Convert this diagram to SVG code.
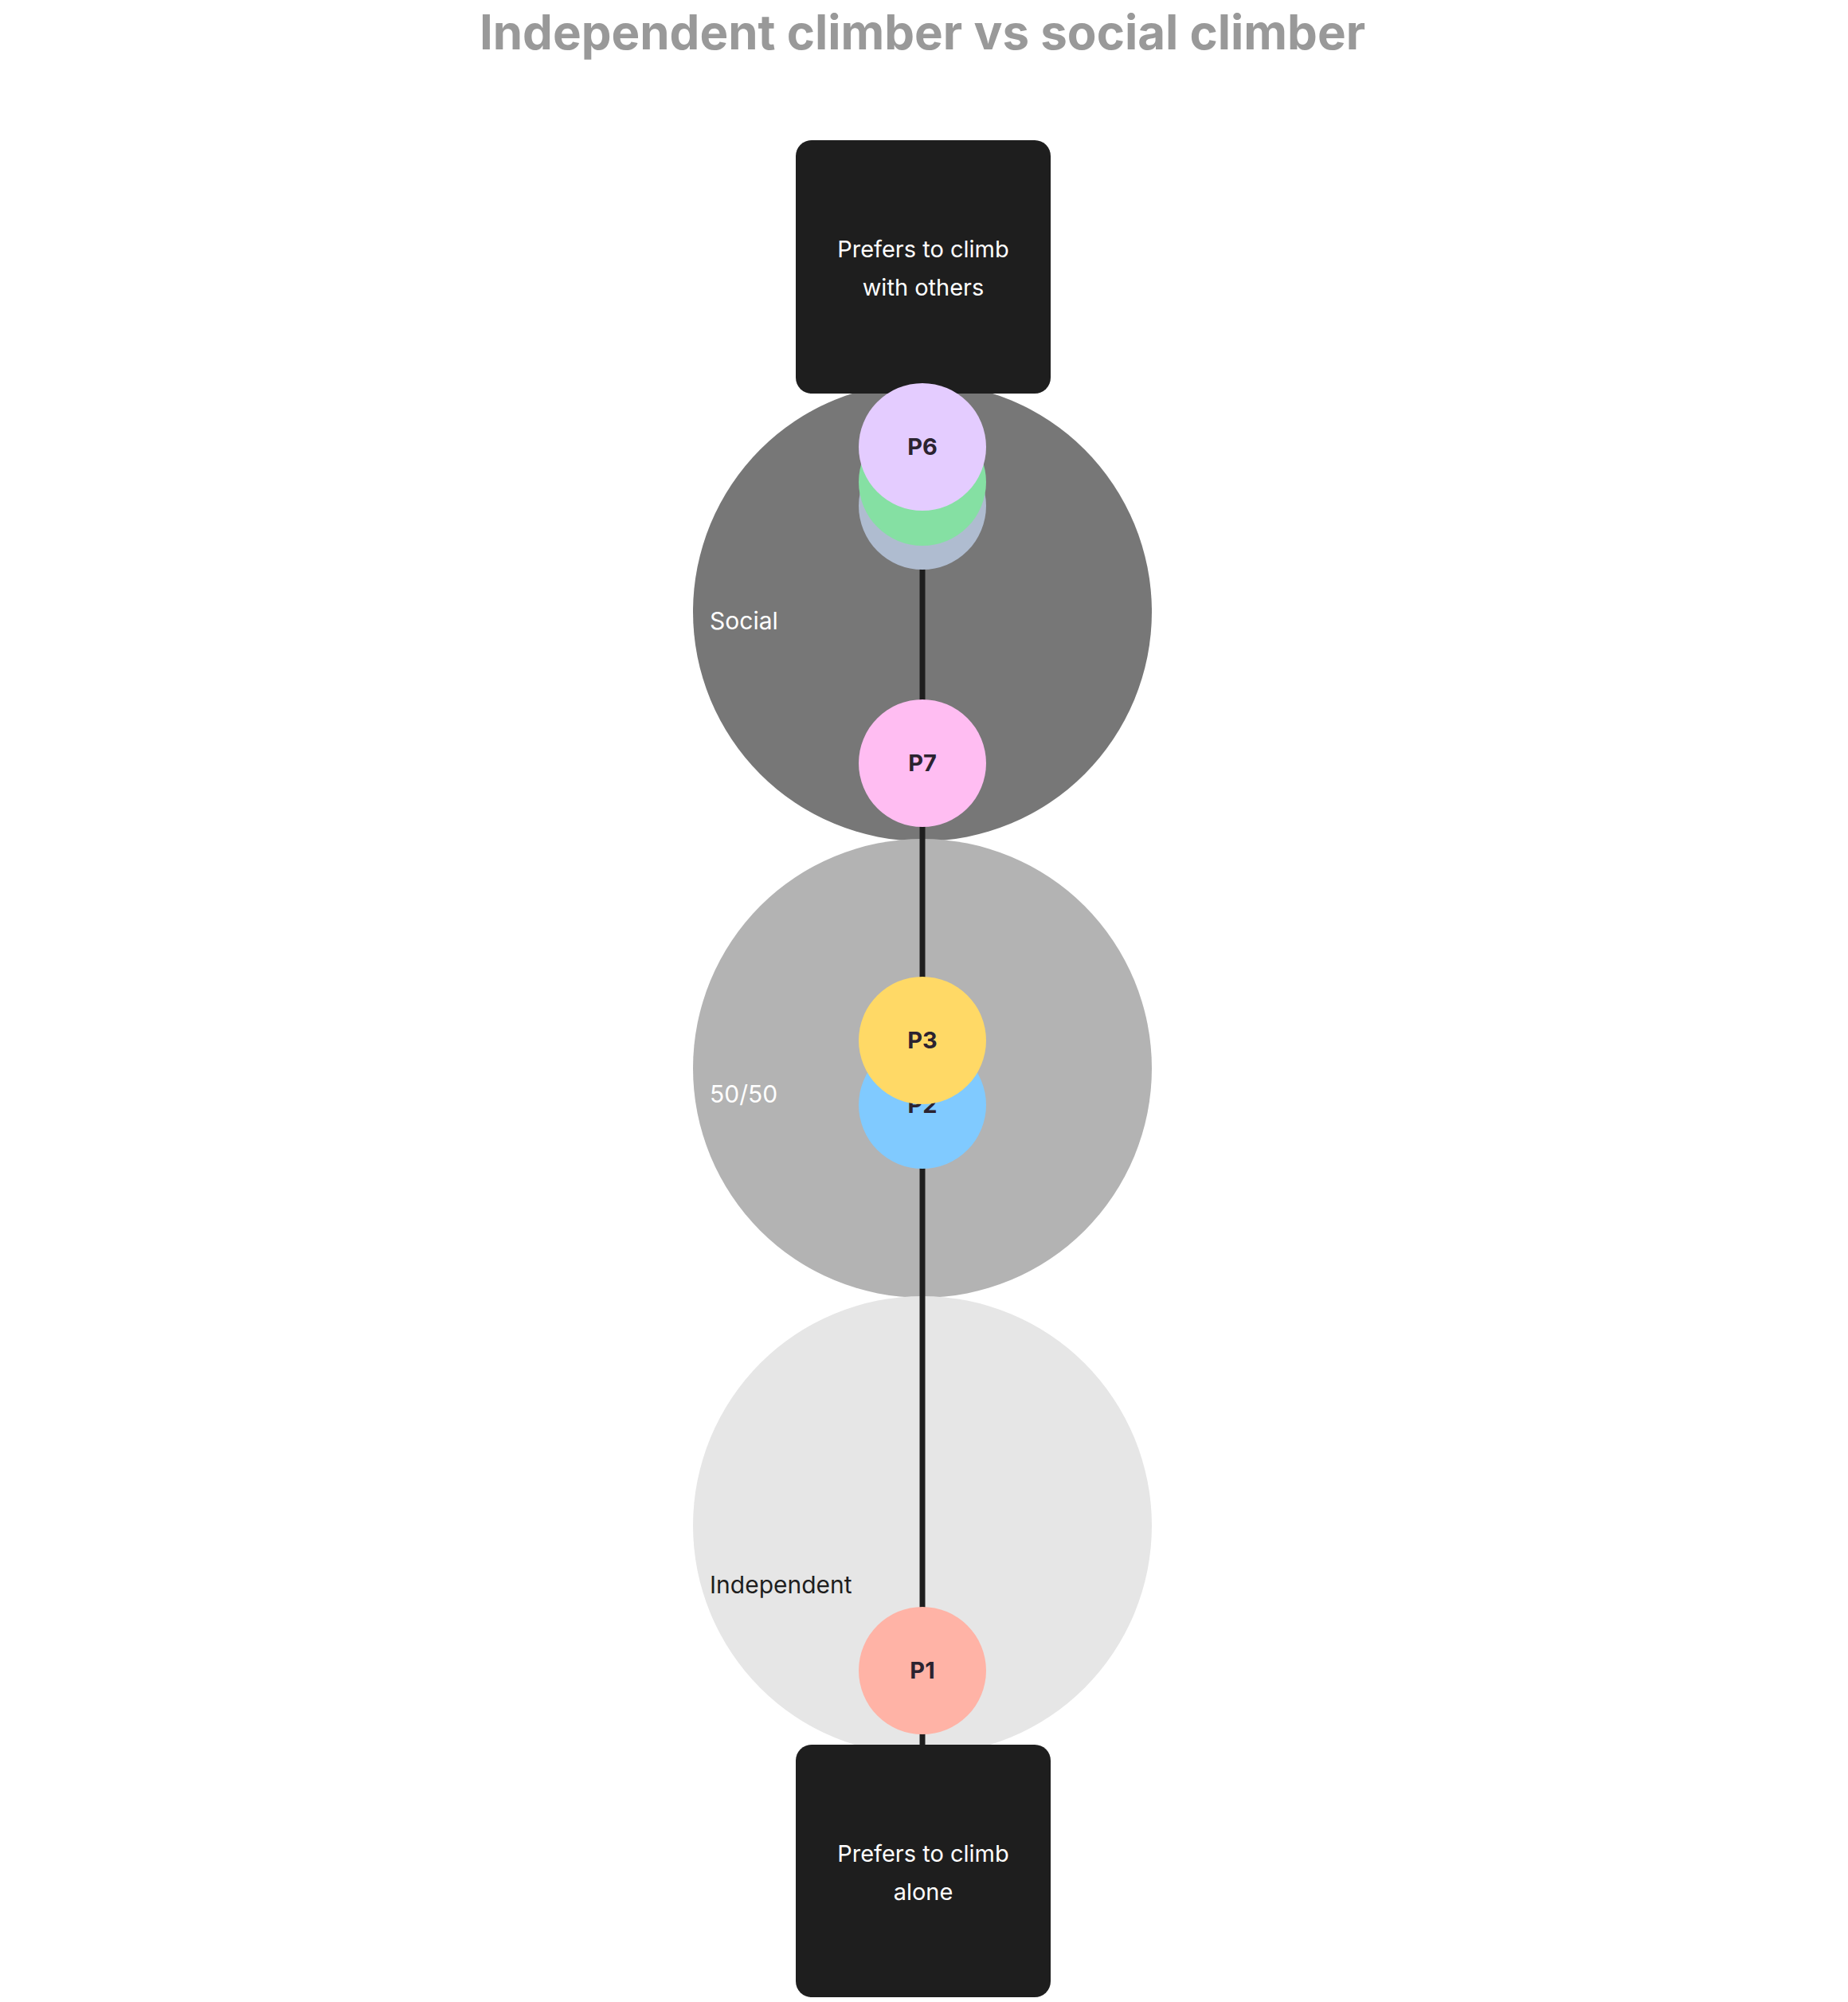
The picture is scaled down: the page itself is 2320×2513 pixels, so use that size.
<svg xmlns="http://www.w3.org/2000/svg" width="2320" height="2513" viewBox="0 0 2320 2513">
<style>
text{font-family:Inter,"Noto Sans","Liberation Sans",sans-serif}
.t{font-size:60px;font-weight:700;fill:#999;text-anchor:middle}
.bx{fill:#1e1e1e}
.bt{font-size:29px;fill:#fff;text-anchor:middle}
.zl{font-size:30px}
.p{font-size:29px;font-weight:700;fill:#2b2330;text-anchor:middle}
</style>
<rect width="2320" height="2513" fill="#fff"/>
<text class="t" x="1158" y="62">Independent climber vs social climber</text>
<g id="zone-social"><circle cx="1158" cy="768" r="288" fill="#777"/><text class="zl" x="891" y="790" fill="#fff">Social</text></g>
<g id="zone-5050"><circle cx="1158" cy="1341" r="288" fill="#b3b3b3"/><text class="zl" x="891" y="1384" fill="#fff">50/50</text></g>
<g id="zone-independent"><circle cx="1158" cy="1915" r="288" fill="#e6e6e6"/><text class="zl" x="891" y="2000" fill="#1e1e1e">Independent</text></g>
<g id="connectors"><line x1="1158" y1="640" x2="1158" y2="2210" stroke="#1e1e1e" stroke-width="7"/></g>
<g id="top-box"><rect class="bx" x="999" y="176" width="320" height="318" rx="20"/><text class="bt" x="1159" y="323">Prefers to climb</text><text class="bt" x="1159" y="371">with others</text></g>
<g id="bottom-box"><rect class="bx" x="999" y="2190" width="320" height="317" rx="20"/><text class="bt" x="1159" y="2337">Prefers to climb</text><text class="bt" x="1159" y="2385">alone</text></g>
<g id="p1"><circle cx="1158" cy="2097" r="80" fill="#ffb3a6"/><text class="p" x="1158" y="2107" font-weight="400">P1</text></g>
<g id="p2"><circle cx="1158" cy="1387" r="80" fill="#80caff"/><text class="p" x="1158" y="1397">P2</text></g>
<g id="p3"><circle cx="1158" cy="1306" r="80" fill="#ffd966"/><text class="p" x="1158" y="1316">P3</text></g>
<g id="p7"><circle cx="1158" cy="958" r="80" fill="#ffbdf2"/><text class="p" x="1158" y="968">P7</text></g>
<g id="p5"><circle cx="1158" cy="635" r="80" fill="#afbcd0"/></g>
<g id="p4"><circle cx="1158" cy="605" r="80" fill="#85e0a3"/></g>
<g id="p6"><circle cx="1158" cy="561" r="80" fill="#e4ccff"/><text class="p" x="1158" y="571">P6</text></g>
</svg>
